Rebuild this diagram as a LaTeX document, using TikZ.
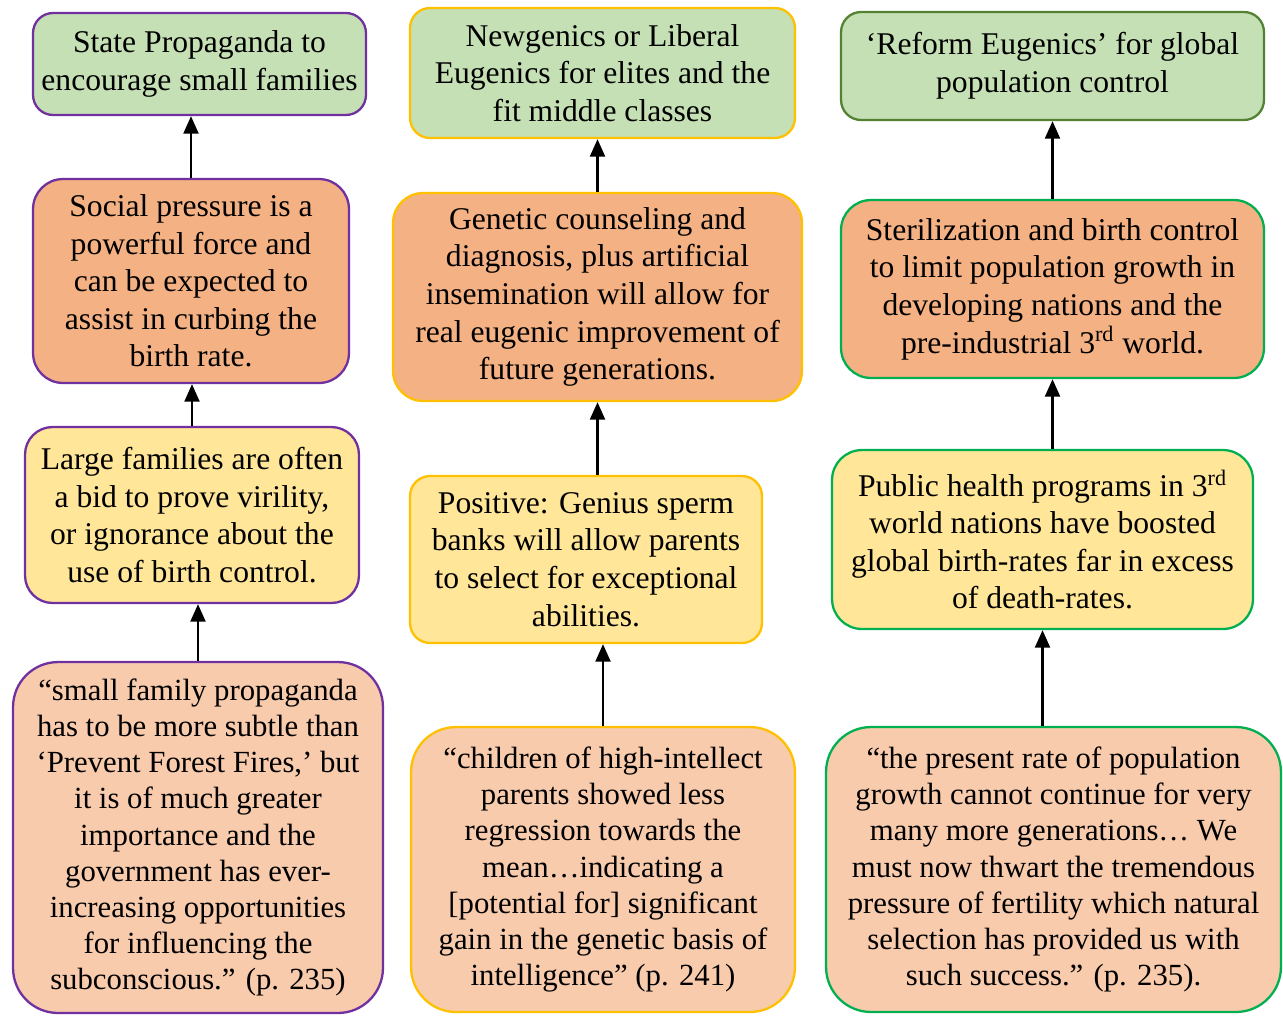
\documentclass[tikz,border=0pt]{standalone}
\usepackage{fontspec}
\setmainfont{Liberation Serif}
\usepackage{tikz}
\usetikzlibrary{arrows.meta,positioning,calc}
\definecolor{goalfill}{HTML}{C5E0B4}
\definecolor{claimfill}{HTML}{F4B183}
\definecolor{causefill}{HTML}{FFE699}
\definecolor{quotefill}{HTML}{F8CBAD}
\definecolor{purp}{HTML}{7030A0}
\definecolor{gold}{HTML}{FFC000}
\definecolor{leaf}{HTML}{548235}
\definecolor{fresh}{HTML}{00B050}
\tikzset{
  card/.style={rounded corners=0.4cm,line width=1.3pt,align=center,inner sep=0pt,
               font=\fontsize{18}{21.4}\selectfont},
  quotecard/.style={card,rounded corners=0.9cm,font=\fontsize{17.5}{20.6}\selectfont},
  up/.style={-{Triangle[length=10pt,width=8.5pt]},line width=1.4pt,black}
}

\begin{document}
\begin{tikzpicture}[x=0.02cm,y=-0.02cm]
\useasboundingbox (0,0) rectangle (1283,1015);
% left column
\node[card,fill=goalfill,draw=purp,minimum width=6.66cm,minimum height=2.04cm] (a1) at (199.5,64)
  {State Propaganda to\\encourage small families};
\node[card,rounded corners=0.6cm,fill=claimfill,draw=purp,minimum width=6.32cm,minimum height=4.08cm] (a2) at (191,281)
  {Social pressure is a\\powerful force and\\can be expected to\\assist in curbing the\\birth rate.};
\node[card,rounded corners=0.55cm,fill=causefill,draw=purp,minimum width=6.68cm,minimum height=3.52cm] (a3) at (192,515)
  {Large families are often\\a bid to prove virility,\\or ignorance about the\\use of birth control.};
\node[quotecard,fill=quotefill,draw=purp,minimum width=7.40cm,minimum height=7.02cm] (a4) at (198,837.5)
  {“small family propaganda\\has to be more subtle than\\‘Prevent Forest Fires,’ but\\it is of much greater\\importance and the\\government has ever-\\increasing opportunities\\for influencing the\\subconscious.” (p. 235)};
% middle column
\node[card,fill=goalfill,draw=gold,minimum width=7.70cm,minimum height=2.60cm] (b1) at (602.5,73)
  {Newgenics or Liberal\\Eugenics for elites and the\\fit middle classes};
\node[card,rounded corners=0.6cm,fill=claimfill,draw=gold,minimum width=8.18cm,minimum height=4.16cm] (b2) at (597.5,297)
  {Genetic counseling and\\diagnosis, plus artificial\\insemination will allow for\\real eugenic improvement of\\future generations.};
\node[card,fill=causefill,draw=gold,minimum width=7.04cm,minimum height=3.34cm] (b3) at (586,559.5)
  {Positive: Genius sperm\\banks will allow parents\\to select for exceptional\\abilities.};
\node[quotecard,fill=quotefill,draw=gold,minimum width=7.68cm,minimum height=5.70cm] (b4) at (603,869.5)
  {“children of high-intellect\\parents showed less\\regression towards the\\mean…indicating a\\{[}potential for{]} significant\\gain in the genetic basis of\\intelligence” (p. 241)};
% right column
\node[card,fill=goalfill,draw=leaf,minimum width=8.46cm,minimum height=2.16cm] (c1) at (1052.5,66)
  {‘Reform Eugenics’ for global\\population control};
\node[card,rounded corners=0.6cm,fill=claimfill,draw=fresh,minimum width=8.46cm,minimum height=3.56cm] (c2) at (1052.5,289)
  {Sterilization and birth control\\to limit population growth in\\developing nations and the\\pre-industrial 3\textsuperscript{rd} world.};
\node[card,rounded corners=0.6cm,fill=causefill,draw=fresh,minimum width=8.42cm,minimum height=3.58cm] (c3) at (1042.5,539.5)
  {Public health programs in 3\textsuperscript{rd}\\world nations have boosted\\global birth-rates far in excess\\of death-rates.};
\node[quotecard,fill=quotefill,draw=fresh,minimum width=9.10cm,minimum height=5.70cm] (c4) at (1053.5,869.5)
  {“the present rate of population\\growth cannot continue for very\\many more generations… We\\must now thwart the tremendous\\pressure of fertility which natural\\selection has provided us with\\such success.” (p. 235).};
% arrows
\draw[up] (a2.north) -- (a2.north |- a1.south);
\draw[up] (a3.north) -- (a3.north |- a2.south);
\draw[up] (a4.north) -- (a4.north |- a3.south);
\draw[up] (b2.north) -- (b2.north |- b1.south);
\draw[up] (b2.south |- b3.north) -- (b2.south);
\draw[up] (b4.north) -- (b4.north |- b3.south);
\draw[up] (c2.north) -- (c2.north |- c1.south);
\draw[up] (c2.south |- c3.north) -- (c2.south);
\draw[up] (c3.south |- c4.north) -- (c3.south);
\end{tikzpicture}
\end{document}
